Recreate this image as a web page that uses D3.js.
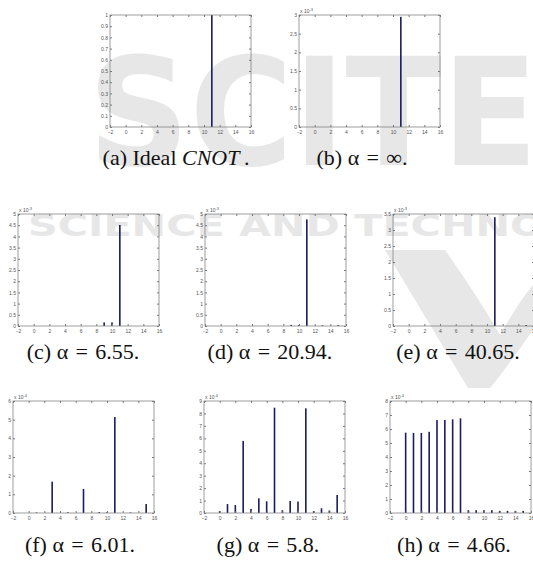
<!DOCTYPE html>
<html>
<head>
<meta charset="UTF-8">
<title>CNOT output distributions</title>
<style>
    body { margin: 0; background: #ffffff; }
    .tick text { font-family: 'Liberation Sans', Arial, sans-serif; font-size: 5px; fill: #555; }
    .tick line { stroke: #777; }
    .expo { font-family: 'Liberation Sans', Arial, sans-serif; font-size: 5px; fill: #555; }
    .caption { font-family: 'Liberation Serif', 'Times New Roman', serif; font-size: 22px; fill: #111; }
    .mark { font-family: 'DejaVu Sans', sans-serif; font-weight: bold; fill: #e7e7e7; }
</style>
</head>
<body>
<script src="https://cdn.jsdelivr.net/npm/d3@7"></script>
<script>
    // basis states 0..15 and x tick labels
    const states = [0, 1, 2, 3, 4, 5, 6, 7, 8, 9, 10, 11, 12, 13, 14, 15];
    const xTicks = [-2, 0, 2, 4, 6, 8, 10, 12, 14, 16];

    // values (in units of the panel's exponent)
    const idealValues = [0, 0, 0, 0, 0, 0, 0, 0, 0, 0, 0, 1, 0, 0, 0, 0];
    const infValues   = [0, 0, 0, 0, 0, 0, 0, 0, 0, 0, 0, 2.95, 0, 0, 0, 0];
    const a655Values  = [0, 0, 0, 0, 0, 0, 0, 0, 0, 0.16, 0.16, 4.51, 0, 0, 0, 0];
    const a2094Values = [0, 0, 0, 0, 0, 0, 0, 0, 0, 0.05, 0.05, 4.76, 0, 0.03, 0, 0.04];
    const a4065Values = [0, 0, 0, 0, 0, 0, 0, 0, 0, 0, 0, 3.4, 0, 0, 0, 0.03];
    const a601Values  = [0, 0.03, 0, 1.68, 0, 0.04, 0, 1.29, 0, 0.05, 0.04, 5.14, 0, 0.03, 0, 0.48];
    const a58Values   = [0.15, 0.72, 0.64, 5.79, 0.33, 1.18, 0.94, 8.46, 0.22, 0.97, 0.92, 8.41, 0.15, 0.38, 0.2, 1.45];
    const a466Values  = [5.74, 5.72, 5.72, 5.8, 6.64, 6.65, 6.69, 6.76, 0.2, 0.2, 0.2, 0.2, 0.15, 0.15, 0.15, 0.15];

    // y axis extents and tick steps
    const yMaxes  = [1, 3, 5, 5, 3.5, 6, 9, 8];
    const ySteps  = [0.1, 0.5, 0.5, 0.5, 0.5, 1, 1, 1];
    const exponents = [null, '-3', '-3', '-3', '-3', '-4', '-4', '-4'];
    const captionLabels = ['(a)', '(b)', '(c)', '(d)', '(e)', '(f)', '(g)', '(h)'];
    const alphaValues = [null, '∞', '6.55', '20.94', '40.65', '6.01', '5.8', '4.66'];
    const panelValues = [idealValues, infValues, a655Values, a2094Values, a4065Values, a601Values, a58Values, a466Values];

    // panel placement (left, top of plot box) and caption centre/baseline
    const layout = [
        { x: 110, y: 15,  cx: 176, cy: 165 },
        { x: 299, y: 15,  cx: 362, cy: 165 },
        { x: 18,  y: 214, cx: 83,  cy: 359 },
        { x: 205, y: 214, cx: 270, cy: 359 },
        { x: 393, y: 214, cx: 458, cy: 359 },
        { x: 13,  y: 401, cx: 80,  cy: 552 },
        { x: 204, y: 401, cx: 268, cy: 552 },
        { x: 390, y: 401, cx: 454, cy: 552 }
    ];
    const w = 141, h = 112;

    const svg = d3.select('body').append('svg')
                  .attr('width', 533)
                  .attr('height', 568);

    // faint publisher watermark behind the plots
    const mark = svg.append('g').attr('class', 'mark');
    mark.append('text')
        .attr('x', 88).attr('y', 165)
        .attr('font-size', 150)
        .attr('textLength', 450)
        .attr('lengthAdjust', 'spacingAndGlyphs')
        .text('SCITE');
    mark.append('text')
        .attr('x', 28).attr('y', 236)
        .attr('font-size', 31)
        .attr('textLength', 640)
        .attr('lengthAdjust', 'spacingAndGlyphs')
        .text('SCIENCE AND TECHNOLOGY');
    mark.append('path')
        .attr('d', 'M385,250 L445,250 Q480,300 500,335 Q520,300 533,285 L533,330 Q505,370 490,388 L468,388 Z');

    const fmt = d3.format('~g');

    panelValues.forEach((values, i) => {
        const pos = layout[i];
        const g = svg.append('g').attr('transform', `translate(${pos.x},${pos.y})`);

        const x = d3.scaleLinear().domain([-2, 16]).range([0, w]);
        const y = d3.scaleLinear().domain([0, yMaxes[i]]).range([h, 0]);
        const yTicks = d3.range(0, Math.round(yMaxes[i] / ySteps[i]) + 1).map(k => k * ySteps[i]);

        // bars
        g.selectAll('.bar')
            .data(values.map((v, k) => ({ state: states[k], value: v })).filter(d => d.value > 0))
            .enter()
            .append('rect')
            .attr('class', 'bar')
            .attr('x', d => x(d.state) - 0.8)
            .attr('width', 1.6)
            .attr('y', d => y(d.value))
            .attr('height', d => y(0) - y(d.value))
            .attr('fill', '#1c1c5e');

        // axes with inward ticks on all four sides
        g.append('g').attr('transform', `translate(0,${h})`)
            .call(d3.axisBottom(x).tickValues(xTicks).tickSizeInner(-2).tickSizeOuter(0).tickPadding(3).tickFormat(fmt));
        g.append('g')
            .call(d3.axisLeft(y).tickValues(yTicks).tickSizeInner(-2).tickSizeOuter(0).tickPadding(2).tickFormat(fmt));
        g.append('g')
            .call(d3.axisTop(x).tickValues(xTicks).tickSizeInner(-2).tickSizeOuter(0).tickFormat(''));
        g.append('g').attr('transform', `translate(${w},0)`)
            .call(d3.axisRight(y).tickValues(yTicks).tickSizeInner(-2).tickSizeOuter(0).tickFormat(''));
        g.selectAll('.domain').remove();

        // plot box
        g.append('rect')
            .attr('width', w).attr('height', h)
            .attr('fill', 'none')
            .attr('stroke', '#858585')
            .attr('stroke-width', 0.8);

        // exponent label
        if (exponents[i]) {
            const ex = g.append('text').attr('class', 'expo').attr('x', 1).attr('y', -2);
            ex.append('tspan').text('x 10');
            ex.append('tspan').attr('font-size', 4).attr('dy', -2.5).text(exponents[i]);
        }

        // caption, math spaced like the paper
        const cap = svg.append('text')
                       .attr('class', 'caption')
                       .attr('x', pos.cx)
                       .attr('y', pos.cy)
                       .attr('text-anchor', 'middle');
        cap.append('tspan').text(captionLabels[i] + ' ');
        if (alphaValues[i] === null) {
            cap.append('tspan').text('Ideal ');
            cap.append('tspan').attr('font-style', 'italic').text('CNOT');
            cap.append('tspan').text('\u2009.');
        } else {
            cap.append('tspan').text('α\u2004=\u2004' + alphaValues[i] + '.');
        }
    });
</script>
</body>
</html>
